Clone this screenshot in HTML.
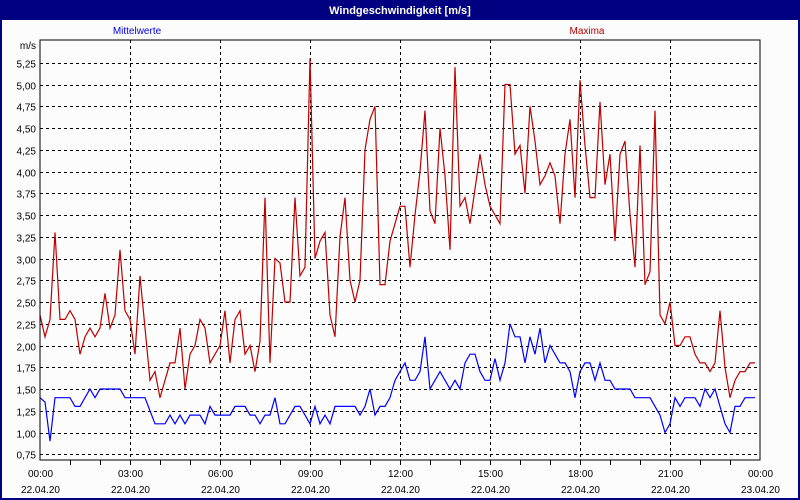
<!DOCTYPE html>
<html><head><meta charset="utf-8"><style>
body{margin:0;background:#fff}
svg{display:block;font-family:"Liberation Sans",sans-serif}
</style></head><body>
<svg width="800" height="500" viewBox="0 0 800 500">
<rect x="0" y="0" width="800" height="500" fill="#fcfcfc"/>
<rect x="1" y="1" width="798" height="498" fill="none" stroke="#000080" stroke-width="2"/>
<rect x="0" y="0" width="800" height="20" fill="#000080"/>
<text x="400" y="14" fill="#fff" font-size="11" font-weight="bold" text-anchor="middle">Windgeschwindigkeit [m/s]</text>
<text x="137" y="34" fill="#0000e0" font-size="10" text-anchor="middle">Mittelwerte</text>
<text x="587" y="34" fill="#b00000" font-size="10" text-anchor="middle">Maxima</text>
<text x="36" y="49" fill="#000" font-size="10" text-anchor="end">m/s</text>
<g id="grid"></g>
<g id="series"></g>
<rect x="40" y="40" width="720" height="420" fill="none" stroke="#000" stroke-width="1"/>
<g id="axes"></g>
</svg>
<script>
const yTicks = [0.75,1.0,1.25,1.5,1.75,2.0,2.25,2.5,2.75,3.0,3.25,3.5,3.75,4.0,4.25,4.5,4.75,5.0,5.25];
const xTickHours = [0,3,6,9,12,15,18,21,24];
const xTickTimes = ["00:00","03:00","06:00","09:00","12:00","15:00","18:00","21:00","00:00"];
const xTickDates = ["22.04.20","22.04.20","22.04.20","22.04.20","22.04.20","22.04.20","22.04.20","22.04.20","23.04.20"];
const maxima = [2.35,2.1,2.3,3.3,2.3,2.3,2.4,2.3,1.9,2.1,
2.2,2.1,2.2,2.6,2.2,2.35,3.1,2.4,2.3,1.9,
2.8,2.2,1.6,1.7,1.4,1.6,1.8,1.8,2.2,1.5,
1.9,2.0,2.3,2.2,1.8,1.9,2.0,2.4,1.8,2.3,
2.4,1.9,2.0,1.7,2.05,3.7,1.8,3.0,
2.95,2.5,2.5,3.7,2.8,2.9,5.3,3.0,3.2,3.3,2.35,2.1,
3.25,3.7,2.75,2.5,2.75,4.25,4.6,4.75,2.7,2.7,
3.2,3.4,3.6,3.6,2.9,3.5,4.0,4.7,3.55,3.4,
4.5,3.95,3.1,5.2,3.6,3.7,3.4,3.8,4.2,3.85,
3.6,3.5,3.4,5.0,5.0,4.2,4.3,3.75,4.75,4.35,
3.85,3.95,4.1,3.95,3.4,4.2,4.6,3.7,5.05,4.3,
3.7,3.7,4.8,3.85,4.2,3.2,4.2,4.35,3.5,2.9,
4.3,2.7,2.85,4.7,2.35,2.25,2.5,2.0,2.0,2.1,
2.1,1.9,1.8,1.8,1.7,1.8,2.4,1.75,1.4,1.6,
1.7,1.7,1.8,1.8];
const mittelwerte = [1.4,1.35,0.9,1.4,1.4,1.4,1.4,1.3,1.3,1.4,
1.5,1.4,1.5,1.5,1.5,1.5,1.5,1.4,1.4,1.4,
1.4,1.4,1.25,1.1,1.1,1.1,1.2,1.1,1.2,1.1,
1.2,1.2,1.2,1.1,1.3,1.2,1.2,1.2,1.2,1.3,
1.3,1.3,1.2,1.2,1.1,1.2,1.2,1.4,
1.1,1.1,1.2,1.3,1.3,1.2,1.1,1.3,1.1,1.2,1.1,1.3,
1.3,1.3,1.3,1.3,1.2,1.3,1.5,1.2,1.3,1.3,
1.4,1.6,1.7,1.8,1.6,1.6,1.7,2.1,1.5,1.6,
1.7,1.6,1.5,1.6,1.5,1.8,1.9,1.9,1.7,1.6,
1.6,1.85,1.6,1.8,2.25,2.1,2.1,1.8,2.1,1.9,
2.2,1.8,2.0,1.9,1.8,1.8,1.7,1.4,1.7,1.8,
1.8,1.6,1.8,1.6,1.6,1.5,1.5,1.5,1.5,1.4,
1.4,1.4,1.4,1.3,1.2,1.0,1.1,1.4,1.3,1.4,
1.4,1.4,1.3,1.5,1.4,1.5,1.3,1.1,1.0,1.3,
1.3,1.4,1.4,1.4];
const stepMinutes = 10;

const NS = "http://www.w3.org/2000/svg";
const X0 = 40, X1 = 760, Y_TOP = 41, Y_BOT = 454.3;
function xScale(h){ return X0 + (X1 - X0) * h / 24; }
function yScale(v){ return Y_BOT - (v - 0.75) * (Y_BOT - Y_TOP) / 4.75; }
function mk(tag, attrs, parent){
  const e = document.createElementNS(NS, tag);
  for (const k in attrs) e.setAttribute(k, attrs[k]);
  parent.appendChild(e);
  return e;
}
const grid = document.getElementById('grid');
const axes = document.getElementById('axes');
const series = document.getElementById('series');

yTicks.forEach(v => {
  const y = Math.round(yScale(v)) + 0.5;
  const l = mk('line', {x1:X0, x2:X1, y1:y, y2:y, stroke:'#000', 'stroke-dasharray':'3,3', 'stroke-width':1}, grid);
  
  
  const t = mk('text', {x:36, y:y+4, 'font-size':10, 'text-anchor':'end', fill:'#000'}, axes);
  t.textContent = v.toFixed(2).replace('.', ',');
  
  
});
for (let h = 1; h < 24; h++) {
  const x = Math.round(xScale(h)) + 0.5;
  const tk = mk('line', {x1:x, x2:x, y1:460, y2:465, stroke:'#000'}, axes);
  
  
}
xTickHours.forEach((h, i) => {
  const x = Math.round(xScale(h)) + 0.5;
  if (h > 0 && h < 24) {
    const g = mk('line', {x1:x, x2:x, y1:40, y2:460, stroke:'#000', 'stroke-dasharray':'3,3'}, grid);
    
    
  }
  const t1 = mk('text', {x:x, y:477, 'font-size':10, 'text-anchor':'middle', fill:'#000'}, axes);
  t1.textContent = xTickTimes[i];
  
  
  const t2 = mk('text', {x:x, y:493, 'font-size':10, 'text-anchor':'middle', fill:'#000'}, axes);
  t2.textContent = xTickDates[i];
  
  
});
function pts(arr){
  return arr.map((v, i) => xScale(i * stepMinutes / 60).toFixed(1) + ',' + yScale(v).toFixed(1)).join(' ');
}
const pm = mk('polyline', {points:pts(maxima), fill:'none', stroke:'#c00000', 'stroke-width':1.2}, series);


const pa = mk('polyline', {points:pts(mittelwerte), fill:'none', stroke:'#0000ff', 'stroke-width':1.2}, series);


</script>
</body></html>
